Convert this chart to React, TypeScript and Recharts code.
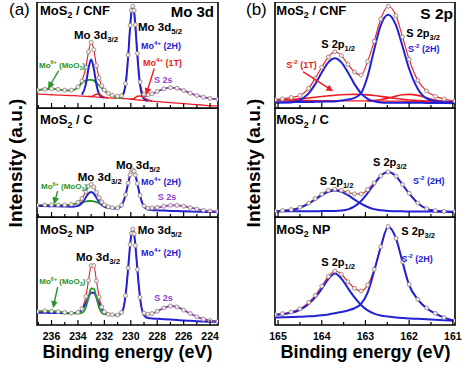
import React from 'react';
import { LineChart, Line, XAxis, YAxis, ReferenceArea } from 'recharts';

const FONT = "'Liberation Sans', Arial, sans-serif";
const RED = '#ed1c24';
const BLUE = '#2121d6';
const GREEN = '#27952a';
const PURPLE = '#8f3fd2';
const DOT = { r: 2, stroke: '#8d7d78', strokeWidth: 0.8, fill: '#f3eee9' };
const PAD = 12; // room left and right of each plot for the end tick labels

// binding energy grids (eV)
const moEnergy = [237.1, 236.5, 236.0, 235.5, 235.0, 234.5, 234.0, 233.7, 233.4, 233.2,
  233.0, 232.8, 232.6, 232.4, 232.2, 232.0, 231.7, 231.4, 231.0, 230.7,
  230.4, 230.2, 230.05, 229.95, 229.85, 229.75, 229.65, 229.5, 229.3, 229.0,
  228.7, 228.4, 228.0, 227.5, 227.0, 226.5, 226.0, 225.5, 225.0, 224.5,
  224.0, 223.4];
const sEnergy = [165.07, 164.9, 164.7, 164.5, 164.3, 164.15, 164.0, 163.85, 163.7, 163.55,
  163.4, 163.25, 163.1, 162.95, 162.8, 162.65, 162.48, 162.3, 162.15, 162.0,
  161.8, 161.6, 161.4, 161.2, 160.95];

const moTicks = [237, 236, 235, 234, 233, 232, 231, 230, 229, 228, 227, 226, 225, 224];
const sTicks = [165, 164.5, 164, 163.5, 163, 162.5, 162, 161.5, 161];

// (a) Mo 3d, MoS2 / CNF
const cnfMoFit = [17.0, 17.8, 18.2, 17.6, 16.8, 16.8, 20.0, 25.5, 38.5, 53.0,
  62.0, 55.0, 40.0, 28.5, 21.0, 17.0, 13.8, 12.0, 11.0, 11.5,
  23.0, 50.0, 78.0, 92.0, 96.0, 92.0, 78.5, 51.5, 24.5, 13.0,
  12.4, 13.4, 15.6, 18.0, 19.2, 18.6, 16.5, 14.0, 11.8, 10.2,
  9.0, 8.2];
const cnfMoBg = [13.0, 12.8, 12.5, 12.2, 12.0, 11.7, 11.4, 11.2, 11.0, 10.9,
  10.7, 10.5, 10.3, 10.1, 10.0, 9.8, 9.6, 9.4, 9.2, 9.0,
  8.8, 8.6, 8.4, 8.3, 8.2, 8.0, 7.9, 7.7, 7.4, 7.1,
  6.8, 6.5, 6.1, 5.6, 5.1, 4.6, 4.1, 3.6, 3.1, 2.7,
  2.3, 2.0];
const cnfMoO3 = [16.8, 17.6, 18.0, 17.4, 16.6, 16.5, 19.5, 23.5, 25.8, 26.5,
  26.6, 25.8, 23.8, 21.2, 18.6, 16.3, 13.4, 11.3, 9.9, 9.2,
  null, null, null, null, null, null, null, null, null, null,
  null, null, null, null, null, null, null, null, null, null,
  null, null];
const cnfMo2H = [null, null, null, null, null, null, null, 12.5, 22.5, 37.5,
  45.7, 37.0, 22.0, 13.2, 10.5, 9.9, null, null, null, 9.4,
  21.5, 48.5, 76.5, 90.5, 94.5, 90.5, 76.5, 49.0, 21.5, 8.5,
  6.9, null, null, null, null, null, null, null, null, null,
  null, null];
const cnfMo1T = [null, null, null, null, null, null, null, null, null, 10.9,
  10.9, 11.8, 13.0, 13.0, 11.5, 10.1, 9.6, null, null, null,
  null, null, 8.4, 8.4, 8.6, 9.1, 9.9, 11.0, 11.3, 9.6,
  7.6, 6.6, null, null, null, null, null, null, null, null,
  null, null];
const cnfMoS2s = [null, null, null, null, null, null, null, null, null, null,
  null, null, null, null, null, null, null, null, null, null,
  null, null, null, null, null, null, null, null, null, 10.5,
  12.0, 13.2, 15.5, 18.0, 19.2, 18.6, 16.5, 14.0, 11.8, 10.2,
  9.0, 8.2];

// (a) Mo 3d, MoS2 / C
const cMoFit = [10.8, 11.0, 11.1, 11.0, 11.0, 11.6, 13.5, 17.0, 23.3, 28.2,
  29.8, 27.5, 22.6, 17.8, 13.8, 11.2, 9.4, 8.6, 8.3, 10.9,
  20.5, 31.1, 38.7, 42.0, 43.1, 42.0, 38.5, 30.7, 19.8, 10.2,
  8.2, 8.3, 8.8, 9.8, 10.7, 10.6, 9.9, 8.6, 7.3, 6.2,
  5.5, 5.0];
const cMo2H = [10.2, 10.0, 9.9, 9.8, 9.6, 9.4, 10.2, 12.8, 18.1, 21.5,
  22.9, 21.3, 17.7, 13.9, 11.0, 9.4, 8.4, 8.1, 7.9, 10.6,
  20.2, 31.0, 38.6, 41.9, 43.0, 41.8, 38.3, 30.5, 19.5, 9.5,
  6.8, 6.3, 6.1, 5.9, 5.6, 5.4, 5.2, 5.0, 4.8, 4.7,
  4.6, 4.5];
const cMoO3 = [10.6, 10.8, 10.9, 10.8, 10.9, 11.4, 12.5, 13.4, 14.3, 14.7,
  14.7, 14.4, 13.6, 12.6, 11.4, 10.3, 9.2, 8.5, 8.0, null,
  null, null, null, null, null, null, null, null, null, null,
  null, null, null, null, null, null, null, null, null, null,
  null, null];
const cMoS2s = [null, null, null, null, null, null, null, null, null, null,
  null, null, null, null, null, null, null, null, null, null,
  null, null, null, null, null, null, null, null, null, null,
  7.2, 8.0, 8.8, 9.8, 10.7, 10.6, 9.9, 8.6, 7.3, 6.2,
  5.5, 5.0];

// (a) Mo 3d, MoS2 NP
const npMoFit = [12.4, 13.1, 12.9, 12.3, 11.6, 11.1, 11.8, 15.0, 26.5, 41.1,
  55.0, 55.0, 40.8, 26.0, 16.7, 12.2, 9.9, 9.5, 9.3, 11.6,
  27.2, 52.8, 74.5, 85.0, 88.8, 84.5, 73.6, 51.4, 25.6, 11.0,
  10.0, 10.6, 12.6, 15.8, 17.6, 16.7, 13.8, 10.6, 7.6, 5.4,
  4.2, 3.4];
const npMo2H = [11.4, 11.3, 11.2, 11.0, 10.9, 10.9, 11.3, 14.0, 20.5, 26.1,
  29.9, 29.8, 25.8, 20.0, 15.1, 11.9, 9.9, 9.4, 9.2, 11.3,
  27.0, 52.7, 74.3, 84.7, 88.3, 84.2, 73.3, 51.1, 25.0, 8.9,
  6.5, 6.1, 5.8, 5.4, 5.0, 4.6, 4.2, 3.9, 3.5, 3.2,
  3.0, 2.8];
const npMoO3 = [12.4, 13.1, 12.9, 12.3, 11.5, 11.0, 10.8, 11.3, 16.4, 25.3,
  33.8, 33.7, 25.1, 16.0, 11.4, 10.0, 9.6, null, null, null,
  null, null, null, null, null, null, null, null, null, null,
  null, null, null, null, null, null, null, null, null, null,
  null, null];
const npMoS2s = [null, null, null, null, null, null, null, null, null, null,
  null, null, null, null, null, null, null, null, null, null,
  null, null, null, null, null, null, null, null, null, 9.5,
  9.8, 10.6, 12.6, 15.8, 17.6, 16.7, 13.8, 10.6, 7.6, 5.4,
  4.2, 3.4];

// (b) S 2p, MoS2 / CNF
const cnfSFit = [8.0, 8.6, 10.0, 11.8, 18.5, 28.0, 38.5, 48.0, 53.0, 49.5,
  41.0, 34.0, 31.0, 44.0, 63.0, 84.0, 96.0, 87.0, 67.0, 46.0,
  26.0, 16.0, 11.0, 8.5, 6.6];
const cnfSBg = [7.5, 7.4, 7.3, 7.2, 7.1, 7.0, 7.0, 6.9, 6.9, 6.8,
  6.8, 6.7, 6.7, 6.6, 6.6, 6.5, 6.5, 6.4, 6.4, 6.3,
  6.3, 6.2, 6.2, 6.1, 6.0];
const cnfS2p12 = [5.0, 5.1, 5.5, 7.5, 13.8, 22.5, 33.4, 43.1, 47.0, 43.1,
  33.4, 22.5, 13.8, 8.7, 6.3, 5.3, 5.05, 5.0, 5.0, 5.0,
  4.9, 4.8, 4.7, 4.6, 4.5];
const cnfS2p32 = [5.3, 5.4, 5.5, 5.6, 5.7, 5.8, 6.0, 6.1, 6.2, 7.0,
  8.0, 9.5, 14.0, 30.0, 55.0, 78.0, 88.0, 78.0, 58.0, 37.0,
  18.0, 9.0, 6.5, 5.6, 5.2];
const cnfS1Ta = [7.5, 7.6, 8.0, 8.6, 9.5, 10.2, 10.9, 11.5, 12.1, 12.5,
  12.8, 12.9, 12.8, 12.4, 11.8, 11.0, 10.0, 9.0, 8.2, 7.6,
  7.0, 6.6, 6.4, 6.2, 6.0];
const cnfS1Tb = [null, null, null, null, null, null, null, null, null, null,
  null, null, null, 6.6, 7.1, 7.8, 9.3, 11.2, 12.5, 12.9,
  11.9, 9.6, 7.5, 6.4, 6.0];

// (b) S 2p, MoS2 / C
const cSFit = [5.5, 6.0, 6.8, 8.9, 12.8, 16.8, 21.0, 24.5, 25.5, 24.5,
  22.6, 21.2, 21.1, 25.2, 31.2, 37.8, 41.3, 37.5, 29.7, 21.8,
  12.8, 7.7, 5.9, 5.2, 5.0];
const cS2p12 = [5.3, 5.6, 6.4, 8.4, 12.2, 16.0, 20.0, 23.0, 24.2, 23.0,
  20.0, 16.0, 12.2, 9.2, 7.2, 6.1, 5.5, 5.3, 5.2, 5.1,
  5.0, 5.0, 4.9, 4.8, 4.7];
const cS2p32 = [5.2, 5.2, 5.2, 5.3, 5.3, 5.3, 5.4, 5.4, 5.5, 5.9,
  7.0, 9.7, 14.7, 21.9, 30.2, 37.6, 41.2, 37.4, 29.5, 21.6,
  12.6, 7.5, 5.7, 5.0, 4.8];

// (b) S 2p, MoS2 NP
const npSFit = [9.8, 10.5, 12.0, 15.0, 21.0, 27.5, 36.0, 45.0, 50.0, 47.0,
  40.0, 34.0, 31.5, 37.0, 51.5, 72.5, 91.2, 80.3, 58.5, 37.5,
  23.8, 15.8, 10.8, 7.0, 4.0];
const npS2p12 = [9.3, 10.0, 11.2, 14.0, 19.5, 25.5, 33.5, 42.5, 47.8, 43.0,
  34.0, 25.5, 18.5, 13.5, 10.5, 8.8, 7.8, 7.0, 6.5, 6.1,
  5.7, 5.3, 4.9, 4.5, 4.0];
const npS2p32 = [7.0, 7.1, 7.3, 7.6, 8.0, 8.4, 9.0, 9.8, 10.8, 12.0,
  13.5, 15.5, 19.5, 30.0, 50.0, 72.0, 91.0, 80.0, 58.0, 37.0,
  23.5, 15.5, 10.5, 6.8, 3.8];

type Curve = { key: string; values: (number | null)[]; color: string; width: number };

interface PanelProps {
  left: number;
  top: number;
  width: number;
  height: number;
  energy: number[];
  domain: [number, number];
  ticks: number[];
  isMajor: (v: number) => boolean;
  showLabels: boolean;
  fit: number[];
  curves: Curve[];
}

const Panel: React.FC<PanelProps> = ({ left, top, width, height, energy, domain, ticks, isMajor, showLabels, fit, curves }) => {
  const rows = energy.map((e, i) => {
    const row: Record<string, number | null> = { e, fit: fit[i] };
    curves.forEach((c) => {
      row[c.key] = c.values[i];
    });
    return row;
  });

  // inward tick marks, labels only on the bottom panel
  const renderTick = (p: any) => {
    const v = p.payload.value;
    const major = isMajor(v);
    return (
      <g>
        <line x1={p.x} x2={p.x} y1={p.y} y2={p.y - (major ? 5 : 3)} stroke="#000" strokeWidth={1.2} />
        {showLabels && major && (
          <text x={p.x} y={p.y + 15} textAnchor="middle" fontFamily={FONT} fontWeight="bold" fontSize={10.5} fill="#000">
            {v}
          </text>
        )}
      </g>
    );
  };

  return (
    <div style={{ position: 'absolute', left: left - PAD, top }}>
      <LineChart width={width + 2 * PAD} height={height + 20} data={rows} margin={{ top: 0, right: PAD, bottom: 0, left: PAD }}>
        <XAxis
          dataKey="e"
          type="number"
          domain={domain}
          reversed
          allowDataOverflow
          ticks={ticks}
          interval={0}
          height={20}
          axisLine={false}
          tickLine={false}
          tickSize={0}
          tickMargin={0}
          tick={renderTick}
        />
        <YAxis type="number" domain={[0, 100]} hide allowDataOverflow />
        <Line dataKey="fit" type="monotone" stroke={RED} strokeWidth={1.1} dot={false} isAnimationActive={false} />
        {curves.map((c) => (
          <Line
            key={c.key}
            dataKey={c.key}
            type="monotone"
            stroke={c.color}
            strokeWidth={c.width}
            dot={false}
            isAnimationActive={false}
          />
        ))}
        <Line dataKey="fit" type="monotone" stroke="none" dot={DOT} activeDot={false} isAnimationActive={false} />
        <ReferenceArea x1={domain[0]} x2={domain[1]} y1={0} y2={100} fill="none" stroke="#000" strokeWidth={1.6} />
      </LineChart>
    </div>
  );
};

type Piece = [string, ('sub' | 'sup')?];

const Rich: React.FC<{ x: number; y: number; size: number; color?: string; parts: Piece[]; anchor?: 'start' | 'end' | 'middle' }> = ({
  x,
  y,
  size,
  color = '#000',
  parts,
  anchor = 'start',
}) => {
  let shift = 0;
  return (
    <text x={x} y={y} fontSize={size} fill={color} fontWeight="bold" fontFamily={FONT} textAnchor={anchor}>
      {parts.map(([t, kind], i) => {
        const target = kind === 'sub' ? size * 0.3 : kind === 'sup' ? -size * 0.4 : 0;
        const dy = target - shift;
        shift = target;
        return (
          <tspan key={i} dy={dy} fontSize={kind ? size * 0.68 : size}>
            {t}
          </tspan>
        );
      })}
    </text>
  );
};

const moMajor = (v: number) => v % 2 === 0;
const sMajor = (v: number) => Number.isInteger(v);
const MO_DOMAIN: [number, number] = [223.4, 237.1];
const S_DOMAIN: [number, number] = [160.95, 165.07];

export default function App() {
  return (
    <div style={{ position: 'absolute', left: 0, top: 0, width: 474, height: 370, background: '#fff' }}>
      {/* (a) Mo 3d */}
      <Panel left={37} top={2} width={181} height={106} energy={moEnergy} domain={MO_DOMAIN} ticks={moTicks} isMajor={moMajor} showLabels={false}
        fit={cnfMoFit}
        curves={[
          { key: 'bg', values: cnfMoBg, color: RED, width: 1.3 },
          { key: 'moo3', values: cnfMoO3, color: GREEN, width: 1.8 },
          { key: 'h2', values: cnfMo2H, color: BLUE, width: 2 },
          { key: 't1', values: cnfMo1T, color: RED, width: 1.5 },
          { key: 's2s', values: cnfMoS2s, color: PURPLE, width: 1.8 },
        ]}
      />
      <Panel left={37} top={108} width={181} height={109} energy={moEnergy} domain={MO_DOMAIN} ticks={moTicks} isMajor={moMajor} showLabels={false}
        fit={cMoFit}
        curves={[
          { key: 'moo3', values: cMoO3, color: GREEN, width: 1.8 },
          { key: 'h2', values: cMo2H, color: BLUE, width: 2 },
          { key: 's2s', values: cMoS2s, color: PURPLE, width: 1.8 },
        ]}
      />
      <Panel left={37} top={217} width={181} height={108} energy={moEnergy} domain={MO_DOMAIN} ticks={moTicks} isMajor={moMajor} showLabels
        fit={npMoFit}
        curves={[
          { key: 'h2', values: npMo2H, color: BLUE, width: 2 },
          { key: 'moo3', values: npMoO3, color: GREEN, width: 1.8 },
          { key: 's2s', values: npMoS2s, color: PURPLE, width: 1.8 },
        ]}
      />

      {/* (b) S 2p */}
      <Panel left={275} top={2} width={180} height={106} energy={sEnergy} domain={S_DOMAIN} ticks={sTicks} isMajor={sMajor} showLabels={false}
        fit={cnfSFit}
        curves={[
          { key: 'bg', values: cnfSBg, color: RED, width: 1.3 },
          { key: 't1a', values: cnfS1Ta, color: RED, width: 1.6 },
          { key: 't1b', values: cnfS1Tb, color: RED, width: 1.6 },
          { key: 'p12', values: cnfS2p12, color: BLUE, width: 2 },
          { key: 'p32', values: cnfS2p32, color: BLUE, width: 2 },
        ]}
      />
      <Panel left={275} top={108} width={180} height={109} energy={sEnergy} domain={S_DOMAIN} ticks={sTicks} isMajor={sMajor} showLabels={false}
        fit={cSFit}
        curves={[
          { key: 'p12', values: cS2p12, color: BLUE, width: 2 },
          { key: 'p32', values: cS2p32, color: BLUE, width: 2 },
        ]}
      />
      <Panel left={275} top={217} width={180} height={108} energy={sEnergy} domain={S_DOMAIN} ticks={sTicks} isMajor={sMajor} showLabels
        fit={npSFit}
        curves={[
          { key: 'p12', values: npS2p12, color: BLUE, width: 2 },
          { key: 'p32', values: npS2p32, color: BLUE, width: 2 },
        ]}
      />

      {/* annotations */}
      <svg width={474} height={370} style={{ position: 'absolute', left: 0, top: 0, pointerEvents: 'none' }}>
        <defs>
          <marker id="arrG" markerWidth={7} markerHeight={7} refX={5} refY={3.5} orient="auto" markerUnits="userSpaceOnUse">
            <path d="M0,0 L7,3.5 L0,7 z" fill={GREEN} />
          </marker>
          <marker id="arrR" markerWidth={7} markerHeight={7} refX={5} refY={3.5} orient="auto" markerUnits="userSpaceOnUse">
            <path d="M0,0 L7,3.5 L0,7 z" fill={RED} />
          </marker>
        </defs>

        <text x={9} y={15} fontFamily={FONT} fontSize={17}>(a)</text>
        <text x={246} y={15} fontFamily={FONT} fontSize={17}>(b)</text>

        <text transform="translate(22,163) rotate(-90)" textAnchor="middle" fontFamily={FONT} fontWeight="bold" fontSize={19}>Intensity (a.u.)</text>
        <text transform="translate(260,163) rotate(-90)" textAnchor="middle" fontFamily={FONT} fontWeight="bold" fontSize={19}>Intensity (a.u.)</text>
        <text x={127.5} y={358} textAnchor="middle" fontFamily={FONT} fontWeight="bold" fontSize={18}>Binding energy (eV)</text>
        <text x={365.5} y={358} textAnchor="middle" fontFamily={FONT} fontWeight="bold" fontSize={18}>Binding energy (eV)</text>

        {/* a1 */}
        <Rich x={40} y={14.5} size={13} parts={[['MoS'], ['2', 'sub'], [' / CNF']]} />
        <Rich x={214} y={17} size={15} anchor="end" parts={[['Mo 3d']]} />
        <Rich x={74} y={38.5} size={11.5} parts={[['Mo 3d'], ['3/2', 'sub']]} />
        <Rich x={138} y={30.5} size={11.5} parts={[['Mo 3d'], ['5/2', 'sub']]} />
        <Rich x={141} y={49} size={9} color={BLUE} parts={[['Mo'], ['4+', 'sup'], [' (2H)']]} />
        <Rich x={143} y={66} size={9} color={RED} parts={[['Mo'], ['4+', 'sup'], [' (1T)']]} />
        <Rich x={154} y={82.5} size={9} color={PURPLE} parts={[['S 2s']]} />
        <Rich x={39} y={67.5} size={8} color={GREEN} parts={[['Mo'], ['6+', 'sup'], [' (MoO'], ['3', 'sub'], [')']]} />
        <line x1={58.7} y1={70.7} x2={49} y2={87} stroke={GREEN} strokeWidth={1.4} markerEnd="url(#arrG)" />
        <line x1={154.3} y1={68.5} x2={146.5} y2={93} stroke={RED} strokeWidth={1.4} markerEnd="url(#arrR)" />

        {/* a2 */}
        <Rich x={40} y={124} size={13} parts={[['MoS'], ['2', 'sub'], [' / C']]} />
        <Rich x={116} y={168.5} size={11.5} parts={[['Mo 3d'], ['5/2', 'sub']]} />
        <Rich x={77.7} y={180.5} size={11.5} parts={[['Mo 3d'], ['3/2', 'sub']]} />
        <Rich x={141} y={184.5} size={9} color={BLUE} parts={[['Mo'], ['4+', 'sup'], [' (2H)']]} />
        <Rich x={157.7} y={200} size={9} color={PURPLE} parts={[['S 2s']]} />
        <Rich x={41} y={189} size={8} color={GREEN} parts={[['Mo'], ['6+', 'sup'], [' (MoO'], ['3', 'sub'], [')']]} />
        <line x1={57.7} y1={191} x2={54.5} y2={202.5} stroke={GREEN} strokeWidth={1.4} markerEnd="url(#arrG)" />

        {/* a3 */}
        <Rich x={40} y={233.5} size={13} parts={[['MoS'], ['2', 'sub'], [' NP']]} />
        <Rich x={137.7} y={233.5} size={11.5} parts={[['Mo 3d'], ['5/2', 'sub']]} />
        <Rich x={76} y={261} size={11.5} parts={[['Mo 3d'], ['3/2', 'sub']]} />
        <Rich x={141} y={256} size={9} color={BLUE} parts={[['Mo'], ['4+', 'sup'], [' (2H)']]} />
        <Rich x={154.3} y={301} size={9} color={PURPLE} parts={[['S 2s']]} />
        <Rich x={39.3} y={284} size={8} color={GREEN} parts={[['Mo'], ['6+', 'sup'], [' (MoO'], ['3', 'sub'], [')']]} />
        <line x1={57.7} y1={287} x2={53.5} y2={306} stroke={GREEN} strokeWidth={1.4} markerEnd="url(#arrG)" />

        {/* b1 */}
        <Rich x={276.3} y={14.5} size={13} parts={[['MoS'], ['2', 'sub'], [' / CNF']]} />
        <Rich x={453} y={19} size={15.5} anchor="end" parts={[['S 2p']]} />
        <Rich x={406.3} y={36.5} size={11} parts={[['S 2p'], ['3/2', 'sub']]} />
        <Rich x={408} y={52} size={9} color={BLUE} parts={[['S'], ['-2', 'sup'], [' (2H)']]} />
        <Rich x={321.3} y={47.5} size={11} parts={[['S 2p'], ['1/2', 'sub']]} />
        <Rich x={286.3} y={68} size={9} color={RED} parts={[['S'], ['-2', 'sup'], [' (1T)']]} />
        <line x1={303} y1={71.7} x2={331.5} y2={90.2} stroke={RED} strokeWidth={1.4} markerEnd="url(#arrR)" />

        {/* b2 */}
        <Rich x={276.3} y={124} size={13} parts={[['MoS'], ['2', 'sub'], [' / C']]} />
        <Rich x={373} y={165.5} size={11} parts={[['S 2p'], ['3/2', 'sub']]} />
        <Rich x={319.7} y={185} size={11} parts={[['S 2p'], ['1/2', 'sub']]} />
        <Rich x={413} y={184} size={9} color={BLUE} parts={[['S'], ['-2', 'sup'], [' (2H)']]} />

        {/* b3 */}
        <Rich x={276.3} y={233.5} size={13} parts={[['MoS'], ['2', 'sub'], [' NP']]} />
        <Rich x={401.3} y={235} size={11} parts={[['S 2p'], ['3/2', 'sub']]} />
        <Rich x={321.3} y={266} size={11} parts={[['S 2p'], ['1/2', 'sub']]} />
        <Rich x={401.3} y={262} size={9} color={BLUE} parts={[['S'], ['-2', 'sup'], [' (2H)']]} />
      </svg>
    </div>
  );
}
